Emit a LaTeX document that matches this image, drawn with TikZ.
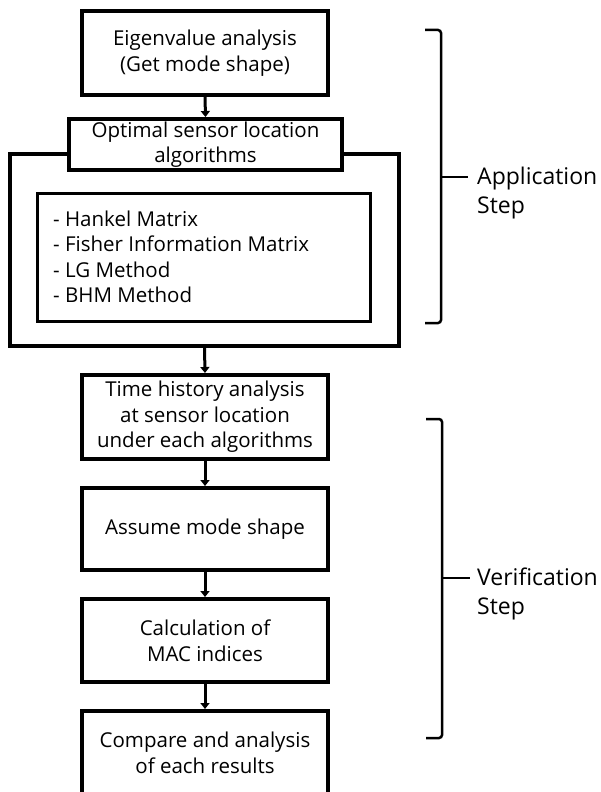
\documentclass[tikz,border=0pt]{standalone}
\usepackage{fontspec}
\setmainfont{Open Sans}
\usetikzlibrary{arrows.meta}
\begin{document}
\begin{tikzpicture}[x=1pt,y=-1pt,
  txt/.style={font=\fontsize{20.5}{25.5}\selectfont},
  flowbox/.style={draw,line width=4pt,fill=white,align=center,txt,inner sep=0pt},
  listbox/.style={draw,line width=3pt,inner sep=0pt},
  conn/.style={line width=3pt,-{Triangle[width=9pt,length=6pt]},shorten >=0pt},
  brace/.style={line width=2.5pt,rounded corners=3pt},
  side/.style={align=left,font=\fontsize{23}{29}\selectfont,anchor=west,inner sep=0pt}]
\useasboundingbox (0,0) rectangle (601,792);
\clip (0,0) rectangle (601,792);
% outer frame and inner list
\node[draw,line width=4pt,minimum width=389pt,minimum height=192pt,inner sep=0pt] (outer) at (204.5,250) {};
\node[listbox,minimum width=333pt,minimum height=128pt] (inner) at (203.5,257) {};
\node[txt,align=left,anchor=west,inner sep=0pt] (list) at (53,257) {- Hankel Matrix\\- Fisher Information Matrix\\- LG Method\\- BHM Method};
% boxes
\node[flowbox,minimum width=246pt,minimum height=84pt] (eig) at (205,53) {Eigenvalue analysis\\(Get mode shape)};
\node[flowbox,minimum width=273pt,minimum height=51pt] (osl) at (205.5,144.5) {Optimal sensor location\\algorithms};
\node[flowbox,minimum width=246pt,minimum height=84pt] (time) at (205,417) {Time history analysis\\at sensor location\\under each algorithms};
\node[flowbox,minimum width=246pt,minimum height=82pt] (assume) at (205,529) {Assume mode shape};
\node[flowbox,minimum width=246pt,minimum height=83pt] (calc) at (205,640.5) {Calculation of\\MAC indices};
\node[flowbox,minimum width=246pt,minimum height=84pt] (comp) at (205,753) {Compare and analysis\\of each results};
% connectors
\draw[conn] (eig.south) -- (osl.north);
\draw[conn] (outer.south) -- (time.north);
\draw[conn] (time.south) -- (assume.north);
\draw[conn] (assume.south) -- (calc.north);
\draw[conn] (calc.south) -- (comp.north);
% application bracket
\coordinate (a1) at (425,30);
\coordinate (a2) at (441,30);
\coordinate (a3) at (441,323);
\coordinate (a4) at (425,323);
\coordinate (am) at (441,177);
\coordinate (at) at (468,177);
\draw[brace] (a1) -- (a2) -- (a3) -- (a4);
\draw[line width=2.5pt] (am) -- (at);
\node[side] (applab) at (477,193) {Application\\Step};
% verification bracket
\coordinate (v1) at (426,419);
\coordinate (v2) at (442,419);
\coordinate (v3) at (442,738);
\coordinate (v4) at (426,738);
\coordinate (vm) at (442,578);
\coordinate (vt) at (470,578);
\draw[brace] (v1) -- (v2) -- (v3) -- (v4);
\draw[line width=2.5pt] (vm) -- (vt);
\node[side] (verlab) at (477,594) {Verification\\Step};
\end{tikzpicture}
\end{document}
